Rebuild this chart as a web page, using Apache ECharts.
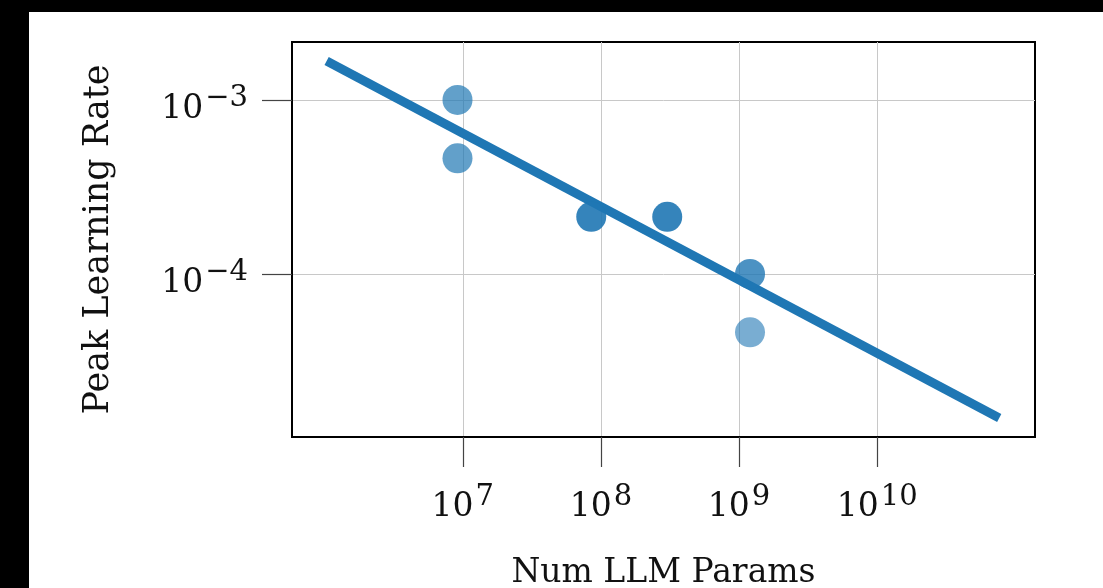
<!DOCTYPE html>
<html>
<head>
<meta charset="utf-8">
<script src="https://cdn.jsdelivr.net/npm/echarts@6/dist/echarts.min.js"></script>
<style>
  html, body { margin: 0; padding: 0; background: #000; width: 1103px; height: 588px; overflow: hidden; }
  #chart { position: absolute; left: 29px; top: 12px; width: 1074px; height: 576px; background: #fff; }
</style>
</head>
<body>
<div id="chart"></div>
<script>
// ---- data ----
const numParams = [9.16e6, 9.16e6, 8.51e7, 3.02e8, 1.20e9, 1.20e9];
const peakLR    = [1.0e-3, 4.62e-4, 2.13e-4, 2.13e-4, 1.0e-4, 4.62e-5];
const pointOpacity = [0.7, 0.7, 0.9, 0.9, 0.8, 0.6];
const fitParams = [1.034e6, 7.64e10];
const fitLR     = [1.675e-3, 1.486e-5];
const xTicks = [1e7, 1e8, 1e9, 1e10];
const yTicks = [1e-3, 1e-4];
const xRange = [5.764, 11.142];   // log10 extent of x axis
const yRange = [-4.937, -2.667];  // log10 extent of y axis
const xTitle = 'Num LLM Params';
const yTitle = 'Peak Learning Rate';

const L = Math.log10;
const FONT = 'DejaVu Serif';
const BLUE = '#1f77b4';

function expLabel(v) {
  const e = String(Math.round(v)).replace('-', '\u2212');
  return '10{sup|' + e + '}';
}
const richStyle = {
  sup: { fontFamily: FONT, fontSize: 29, color: '#111', padding: [0, 0, 20, 2] }
};

const chart = echarts.init(document.getElementById('chart'), null, { renderer: 'canvas' });
chart.setOption({
  animation: false,
  backgroundColor: '#fff',
  grid: {
    left: 263, top: 30, right: 68, bottom: 151,
    outerBoundsMode: 'none', containLabel: false,
    show: true, borderColor: '#000', borderWidth: 2, backgroundColor: 'transparent'
  },
  xAxis: {
    type: 'value', min: xRange[0], max: xRange[1],
    name: xTitle, nameLocation: 'middle', nameGap: 120,
    nameTextStyle: { fontFamily: FONT, fontSize: 33, color: '#111' },
    axisLine: { show: true, onZero: false, lineStyle: { color: '#000', width: 2 } },
    axisTick: { show: true, length: 30, customValues: xTicks.map(L), lineStyle: { color: '#444', width: 1.2 } },
    axisLabel: {
      customValues: xTicks.map(L), margin: 46,
      fontFamily: FONT, fontSize: 33, color: '#111',
      formatter: expLabel, rich: richStyle
    },
    splitLine: { show: true, lineStyle: { color: '#c8c8c8', width: 1 } }
  },
  yAxis: {
    type: 'value', min: yRange[0], max: yRange[1],
    name: yTitle, nameLocation: 'middle', nameGap: 176,
    nameTextStyle: { fontFamily: FONT, fontSize: 35, color: '#111' },
    axisLine: { show: true, onZero: false, lineStyle: { color: '#000', width: 2 } },
    axisTick: { show: true, length: 30, customValues: yTicks.map(L), lineStyle: { color: '#444', width: 1.2 } },
    axisLabel: {
      customValues: yTicks.map(L), margin: 44, padding: [18, 0, 0, 0],
      fontFamily: FONT, fontSize: 33, color: '#111',
      formatter: expLabel, rich: richStyle
    },
    splitLine: { show: true, lineStyle: { color: '#c8c8c8', width: 1 } }
  },
  series: [
    {
      type: 'line',
      data: fitParams.map((x, i) => [L(x), L(fitLR[i])]),
      showSymbol: false, symbol: 'none',
      lineStyle: { color: BLUE, width: 9, cap: 'butt' },
      z: 2
    },
    {
      type: 'scatter',
      symbolSize: 30,
      data: numParams.map((x, i) => ({
        value: [L(x), L(peakLR[i])],
        itemStyle: { color: BLUE, opacity: pointOpacity[i] }
      })),
      z: 3
    }
  ]
});
</script>
</body>
</html>
